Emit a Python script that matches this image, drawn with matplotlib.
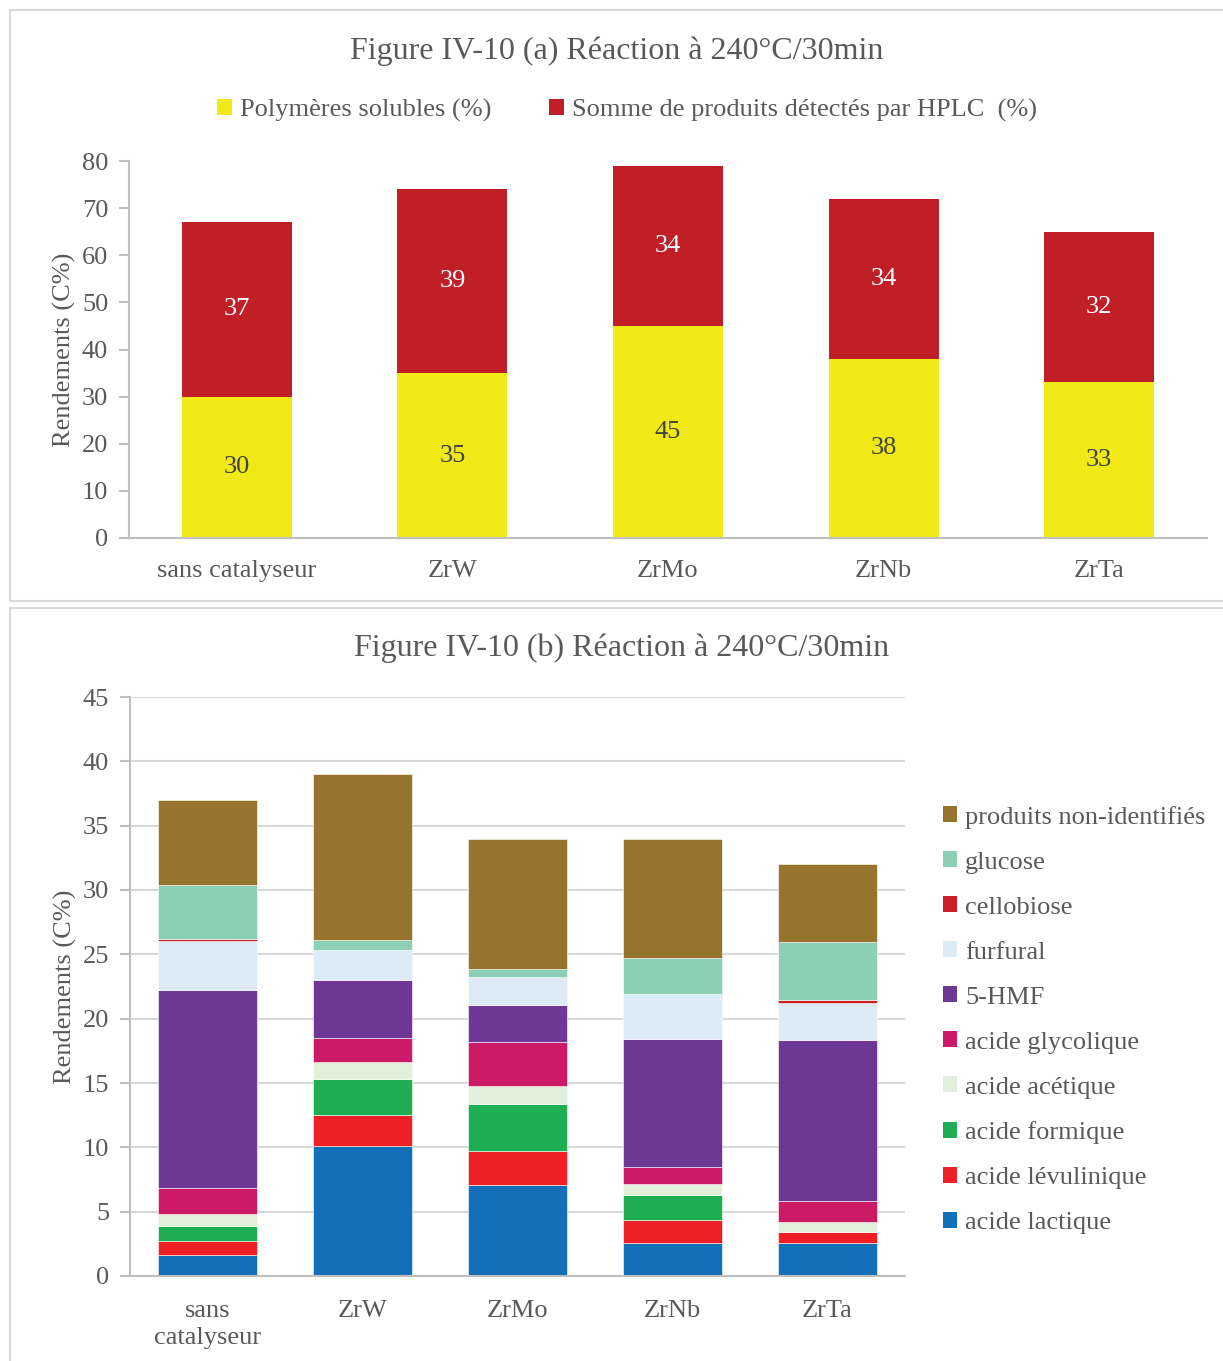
import matplotlib
matplotlib.use("Agg")
import matplotlib.pyplot as plt
from matplotlib.patches import Rectangle, Patch
import numpy as np

plt.rcParams['font.family'] = ['Liberation Serif', 'DejaVu Serif']

# ---------------- data ----------------
categories_a = ["sans catalyseur", "ZrW", "ZrMo", "ZrNb", "ZrTa"]
polymeres = [30, 35, 45, 38, 33]
somme_hplc = [37, 39, 34, 34, 32]

categories_b = ["sans\ncatalyseur", "ZrW", "ZrMo", "ZrNb", "ZrTa"]
acide_lactique = [1.63, 10.1, 7.06, 2.56, 2.56]
acide_levulinique = [1.08, 2.45, 2.65, 1.79, 0.86]
acide_formique = [1.20, 2.77, 3.67, 1.91, 0.0]
acide_acetique = [0.87, 1.33, 1.35, 0.86, 0.80]
acide_glycolique = [2.06, 1.88, 3.49, 1.36, 1.61]
hmf = [15.42, 4.50, 2.83, 9.95, 12.54]
furfural = [3.79, 2.31, 2.19, 3.52, 2.87]
cellobiose = [0.15, 0.0, 0.0, 0.0, 0.21]
glucose = [4.16, 0.80, 0.62, 2.80, 4.51]
non_identifies = [6.64, 12.86, 10.14, 9.25, 6.04]

series_b = [
    ("acide lactique", acide_lactique, "#1370B8"),
    ("acide lévulinique", acide_levulinique, "#EE2025"),
    ("acide formique", acide_formique, "#1FAE53"),
    ("acide acétique", acide_acetique, "#E2EFDA"),
    ("acide glycolique", acide_glycolique, "#CC1A67"),
    ("5-HMF", hmf, "#6E3795"),
    ("furfural", furfural, "#DDEBF6"),
    ("cellobiose", cellobiose, "#CC1F27"),
    ("glucose", glucose, "#8ACFB6"),
    ("produits non-identifiés", non_identifies, "#96742E"),
]

# ---------------- layout helpers ----------------
W, H = 1223, 1361
fig = plt.figure(figsize=(W / 100, H / 100), dpi=100)
fig.patch.set_facecolor("white")

def rect(l, t, r, b):
    return [l / W, 1 - b / H, (r - l) / W, (b - t) / H]

TXT = "#595959"
SPINE = "#BFBFBF"
GRID = "#D9D9D9"
FS = 19

# panel borders
fig.patches.append(Rectangle((10 / W, 1 - 601 / H), 1300 / W, 591 / H, transform=fig.transFigure,
                             fill=False, edgecolor="#D9D9D9", linewidth=1.5))
fig.patches.append(Rectangle((10 / W, 1 - 1400 / H), 1300 / W, (1400 - 608) / H, transform=fig.transFigure,
                             fill=False, edgecolor="#D9D9D9", linewidth=1.5))

# ---------------- (a) ----------------
ax1 = fig.add_axes(rect(129, 161, 1207, 538))
x = np.arange(len(categories_a))
bw = 0.51
ax1.bar(x, polymeres, bw, color="#F0E916", label="Polymères solubles (%)", zorder=2)
ax1.bar(x, somme_hplc, bw, bottom=polymeres, color="#C01F27",
        label="Somme de produits détectés par HPLC  (%)", zorder=2)
for i in range(len(x)):
    ax1.text(x[i], polymeres[i] / 2, f"{polymeres[i]}", ha="center", va="center",
             fontsize=FS, color="#404040")
    ax1.text(x[i], polymeres[i] + somme_hplc[i] / 2, f"{somme_hplc[i]}", ha="center", va="center",
             fontsize=FS, color="white")
ax1.set_xlim(-0.5, 4.5)
ax1.set_ylim(0, 80)
ax1.set_yticks(range(0, 81, 10))
ax1.set_xticks(x)
ax1.set_xticklabels(categories_a)
for s in ["top", "right"]:
    ax1.spines[s].set_visible(False)
for s in ["left", "bottom"]:
    ax1.spines[s].set_color(SPINE)
    ax1.spines[s].set_linewidth(1.5)
ax1.tick_params(axis="y", length=7, width=1.5, color=SPINE, labelsize=FS, labelcolor=TXT, pad=8)
ax1.tick_params(axis="x", length=0, labelsize=FS, labelcolor=TXT, pad=16)
ax1.set_ylabel("Rendements (C%)", fontsize=FS, color=TXT, labelpad=4)
fig.text(617 / W, 1 - 51 / H, "Figure IV-10 (a) Réaction à 240°C/30min", ha="center", va="center",
         fontsize=23, color=TXT)
h, l = ax1.get_legend_handles_labels()
fig.legend(h, l, loc="center", bbox_to_anchor=(627 / W, 1 - 110 / H), ncol=2, frameon=False,
           fontsize=FS, labelcolor=TXT, handlelength=0.55, handleheight=0.55, handletextpad=0.3,
           columnspacing=2.2)

# ---------------- (b) ----------------
ax2 = fig.add_axes(rect(130, 697, 905, 1276))
xb = np.arange(len(categories_b))
bw2 = 0.645
bottom = np.zeros(len(xb))
handles = []
for name, vals, col in series_b:
    ax2.bar(xb, vals, bw2, bottom=bottom, color=col, edgecolor="white", linewidth=0.4, zorder=2)
    bottom = bottom + np.array(vals)
    handles.append(Patch(facecolor=col, label=name))
ax2.set_xlim(-0.5, 4.5)
ax2.set_ylim(0, 45)
ax2.set_yticks(range(0, 46, 5))
ax2.set_xticks(xb)
ax2.set_xticklabels(categories_b, linespacing=1.3)
ax2.grid(axis="y", color=GRID, linewidth=1.5, zorder=0)
ax2.set_axisbelow(True)
for s in ["top", "right"]:
    ax2.spines[s].set_visible(False)
for s in ["left", "bottom"]:
    ax2.spines[s].set_color(SPINE)
    ax2.spines[s].set_linewidth(1.5)
ax2.tick_params(axis="y", length=7, width=1.5, color=SPINE, labelsize=FS, labelcolor=TXT, pad=8)
ax2.tick_params(axis="x", length=0, labelsize=FS, labelcolor=TXT, pad=17)
ax2.set_ylabel("Rendements (C%)", fontsize=FS, color=TXT, labelpad=4)
fig.text(622 / W, 1 - 648 / H, "Figure IV-10 (b) Réaction à 240°C/30min", ha="center", va="center",
         fontsize=23, color=TXT)
fig.legend(handles[::-1], [hh.get_label() for hh in handles[::-1]], loc="upper left",
           bbox_to_anchor=(919 / W, 1 - 782 / H), frameon=False, fontsize=FS, labelcolor=TXT,
           handlelength=0.55, handleheight=0.55, handletextpad=0.3, labelspacing=0.86)

fig.savefig("out.png", dpi=100, facecolor="white")
